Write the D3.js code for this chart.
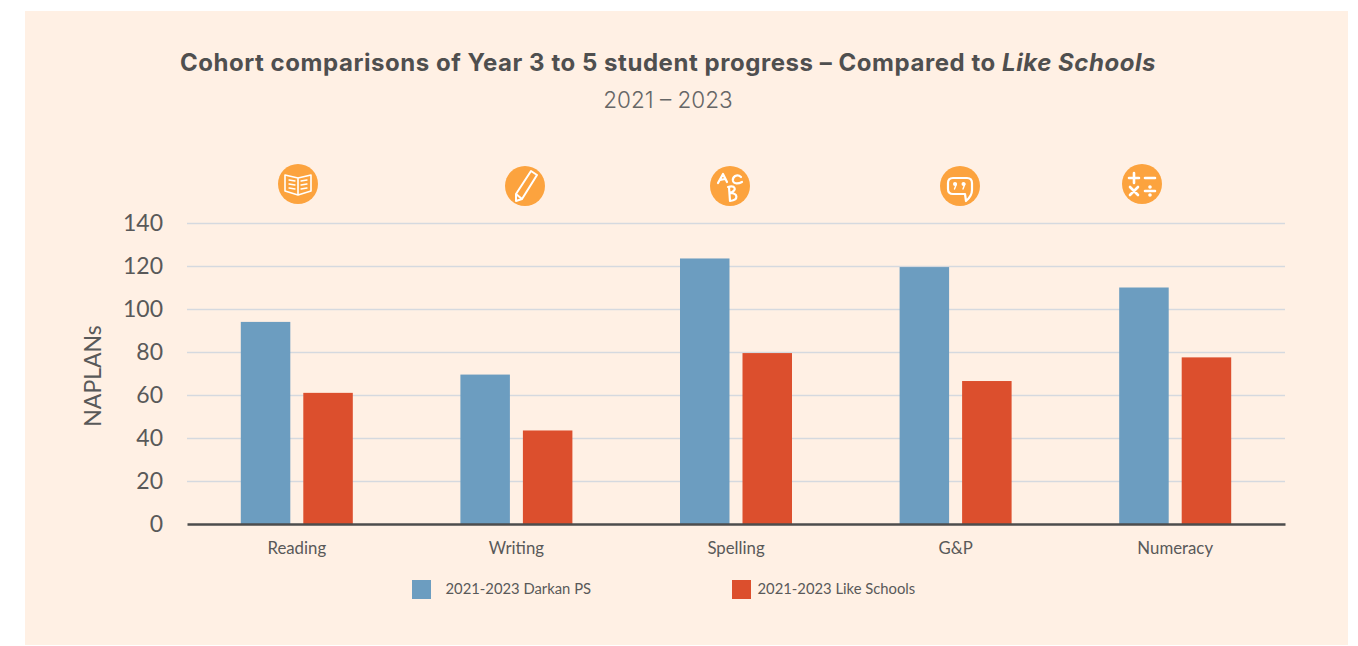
<!DOCTYPE html>
<html><head><meta charset="utf-8">
<script src="https://cdn.jsdelivr.net/npm/d3@7/dist/d3.min.js"></script>
<style>
html,body{margin:0;padding:0;background:#fff;}
svg{display:block;}
text{font-family:Lato,sans-serif;fill:#595959;}
</style></head><body>
<svg id="c" width="1358" height="646"></svg>
<script>
const categories = ["Reading","Writing","Spelling","G&P","Numeracy"];
const darkan = [94,69.5,123.5,119.5,110];
const like = [61,43.5,79.5,66.5,77.5];
const seriesNames = ["2021-2023 Darkan PS","2021-2023 Like Schools"];
const yTicks = [0,20,40,60,80,100,120,140];
const colors = ["#6C9DC0","#DC4F2D"];

const svg = d3.select("#c");
svg.append("rect").attr("x",25).attr("y",11).attr("width",1323).attr("height",634).attr("fill","#FFF0E4");

const x = d3.scaleBand().domain(categories).range([187,1285]);
const y = d3.scaleLinear().domain([0,140]).range([524,223]);
const xs = d3.scaleBand().domain([0,1]).range([-56,56]).paddingInner(0.208);

// title
const title = svg.append("text").attr("x",668).attr("y",71).attr("text-anchor","middle")
  .style("font-family","Inter,sans-serif").style("font-weight",700).style("font-size","24px").style("letter-spacing","0.55px").style("fill","#4F4F4F");
title.append("tspan").text("Cohort comparisons of Year 3 to 5 student progress – Compared to ");
title.append("tspan").style("font-style","italic").text("Like Schools");
svg.append("text").attr("x",668).attr("y",108).attr("text-anchor","middle")
  .style("font-family","Inter,sans-serif").style("font-size","22.5px").style("font-weight",300).style("fill","#666").text("2021 – 2023");

// grid and y axis
const gy = svg.append("g").attr("transform","translate(187,0)")
  .call(d3.axisLeft(y).tickValues(yTicks).tickSize(-1098).tickPadding(24));
gy.select(".domain").remove();
gy.selectAll(".tick line").attr("stroke","#D5D9DF").attr("stroke-width",1.6);
gy.selectAll(".tick text").style("font-size","23px").style("fill","#595959");
gy.selectAll(".tick").filter(d=>d===0).select("line").remove();

svg.append("text").attr("transform","translate(101,376) rotate(-90)").attr("text-anchor","middle")
  .style("font-size","23px").text("NAPLANs");

// bars
[darkan,like].forEach((vals,s)=>{
  svg.append("g").selectAll("rect").data(vals).join("rect")
    .attr("x",(d,i)=>x(categories[i])+x.bandwidth()/2+xs(s))
    .attr("y",d=>y(d))
    .attr("width",xs.bandwidth())
    .attr("height",d=>y(0)-y(d))
    .attr("fill",colors[s]);
});

// x axis
const gx = svg.append("g").attr("transform","translate(0,524)")
  .call(d3.axisBottom(x).tickSize(0).tickPadding(18));
gx.select(".domain").attr("stroke","#4D4D4D").attr("stroke-width",2.4);
gx.selectAll(".tick text").style("font-size","16.8px").style("fill","#595959");

// legend
const legendX = [412,732], legendTextX = [445.5,757.5];
seriesNames.forEach((n,i)=>{
  svg.append("rect").attr("x",legendX[i]).attr("y",580).attr("width",19).attr("height",19).attr("fill",colors[i]);
  svg.append("text").attr("x",legendTextX[i]).attr("y",594).style("font-size","14.8px").text(n);
});

// icons
const iconPos = [[298,184],[525,186],[730,186],[960,186],[1142,184]];
const icons = svg.append("g");
iconPos.forEach(p=>icons.append("circle").attr("cx",p[0]).attr("cy",p[1]).attr("r",20).attr("fill","#FCA33E"));
const ic = i => icons.append("g").attr("transform",`translate(${iconPos[i][0]},${iconPos[i][1]})`)
  .attr("fill","none").attr("stroke","#fff").attr("stroke-width",1.6).attr("stroke-linecap","round").attr("stroke-linejoin","round");
// book
let g = ic(0);
g.append("path").attr("d","M0,-6 L-13,-9 V7 L0,11 L13,7 V-9 Z M0,-6 V11");
g.append("path").attr("stroke-width",1.3).attr("d","M-9,-4 L-3,-3 M-9,0 L-3,1 M-9,4 L-3,5 M3,-3 L9,-4 M3,1 L9,0 M3,5 L9,4");
// pencil
g = ic(1);
g.append("path").attr("stroke-width",2).attr("d","M-9,8 L-9,15 L-3,13 L12,-11 L6,-15 Z M-9,8 L-3,13");
// ABC
g = ic(2);
g.append("path").attr("stroke-width",2.2).attr("d","M-12,-3 L-7,-12 L-3,-4 M-10,-6 L-5,-7");
g.append("path").attr("stroke-width",2.2).attr("d","M11,-9 C7,-13 2,-9 3,-5 C4,-2 8,-2 12,-4");
g.append("path").attr("stroke-width",2.2).attr("d","M-1,1 L0,15 M-2,1 C5,-1 8,4 0,7 C8,7 9,14 0,15");
// quote bubble
g = ic(3);
g.append("path").attr("stroke-width",2.2).attr("d","M-7,-8 H7 Q12,-8 12,-3 V4 Q12,10 6,15 L5,8 H-7 Q-12,8 -12,3 V-3 Q-12,-8 -7,-8 Z");
g.append("circle").attr("cx",-5).attr("cy",-2).attr("r",2).attr("fill","#fff").attr("stroke","none");
g.append("circle").attr("cx",3.5).attr("cy",-2).attr("r",2).attr("fill","#fff").attr("stroke","none");
g.append("path").attr("stroke-width",1.4).attr("d","M-3.6,-2 L-5.5,3 M4.9,-2 L3,3");
// maths
g = ic(4);
g.append("path").attr("stroke-width",2.6).attr("d","M-13,-6 H-3 M-8,-11 V-1 M3,-6 H13 M-12,3 L-4,11 M-4,3 L-12,11 M3,7 H13");
g.append("circle").attr("cx",8).attr("cy",3).attr("r",1).attr("fill","#fff");
g.append("circle").attr("cx",8).attr("cy",11).attr("r",1).attr("fill","#fff");
</script>
</body></html>
